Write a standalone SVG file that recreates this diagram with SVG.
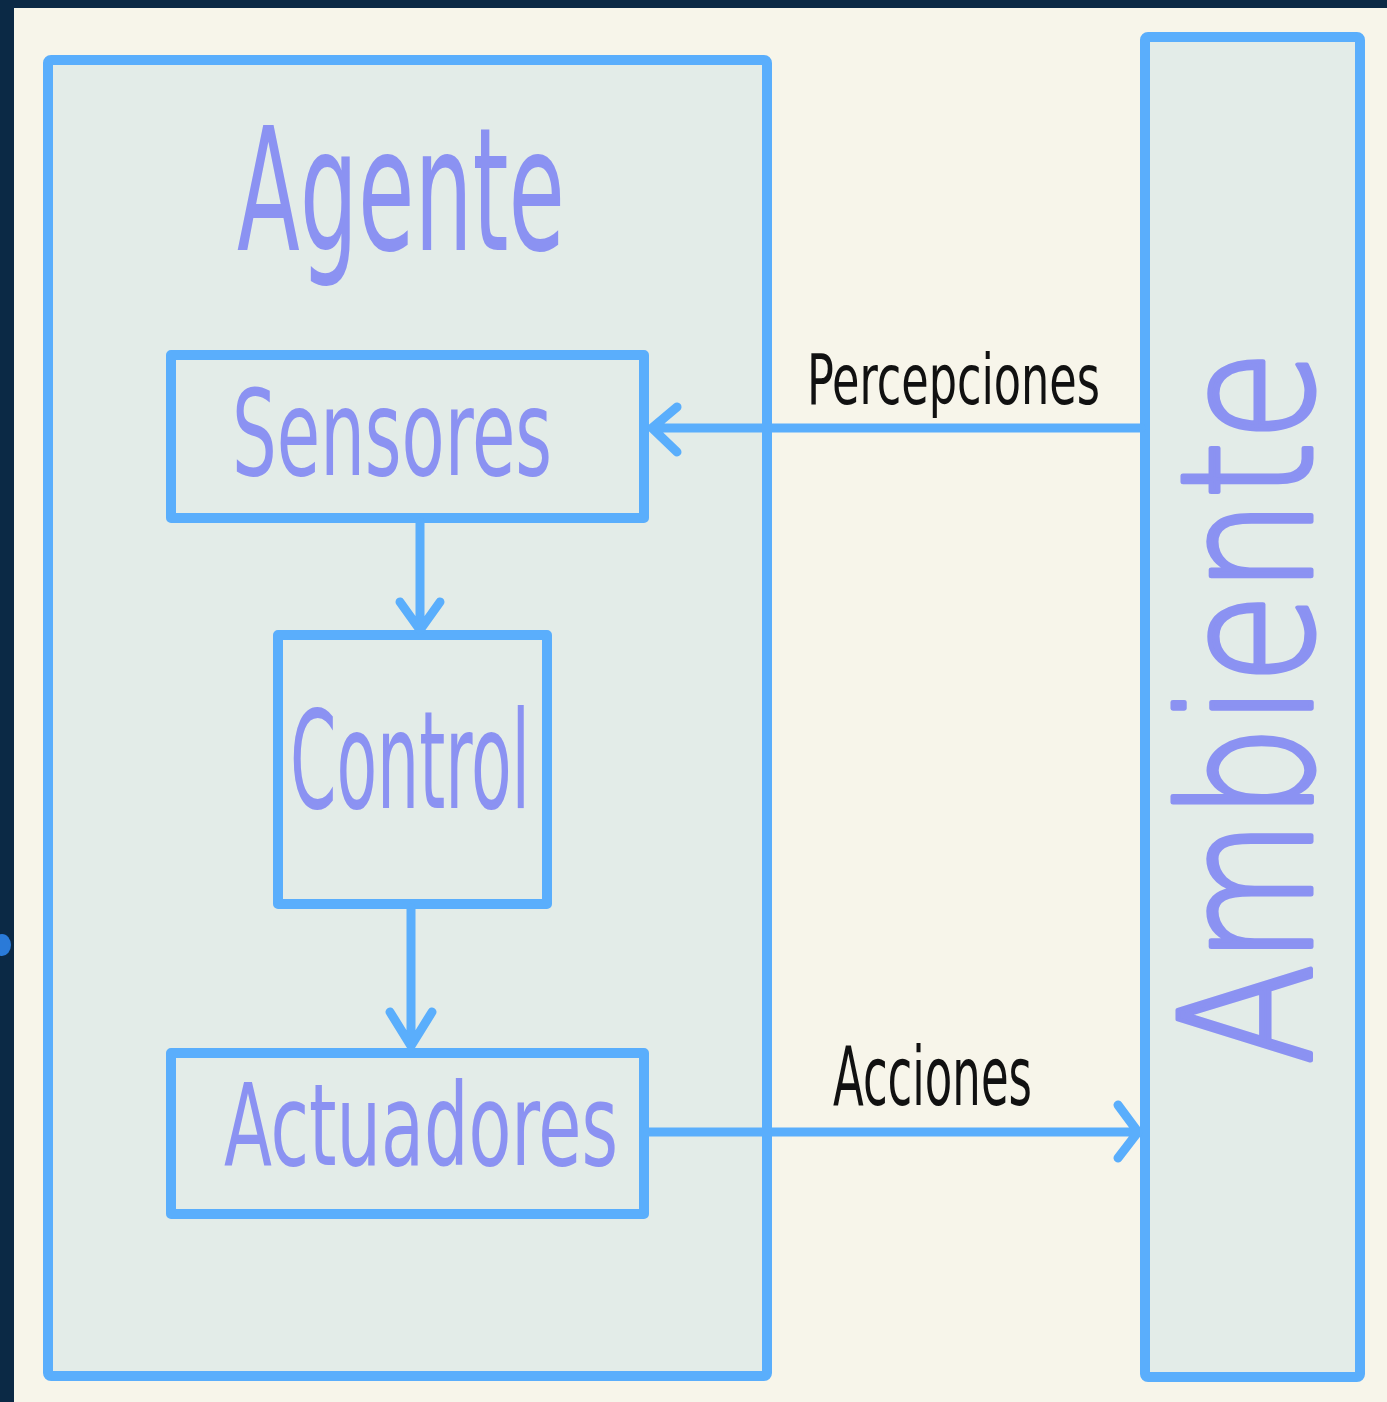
<svg xmlns="http://www.w3.org/2000/svg" width="1387" height="1402" viewBox="0 0 1387 1402">
  <style>
    .box { fill: #e3ece8; stroke: #5aaefc; stroke-width: 10; stroke-linejoin: round; }
    .wire { fill: none; stroke: #5aaefc; stroke-width: 9; stroke-linecap: round; stroke-linejoin: round; }
    .lbl { font-family: "DejaVu Sans Condensed", "DejaVu Sans", sans-serif; font-stretch: condensed; fill: #8b92f2; }
    .thin { font-family: "DejaVu Sans", sans-serif; font-weight: 200; fill: #8b92f2; stroke: #8b92f2; stroke-width: 5; stroke-linejoin: round; }
    .edge { font-family: "DejaVu Sans Condensed", "DejaVu Sans", sans-serif; font-stretch: condensed; fill: #111111; }
  </style>

  <!-- page -->
  <rect x="0" y="0" width="1387" height="1402" fill="#0b2945"/>
  <rect x="14" y="8" width="1373" height="1394" fill="#f7f5ea"/>
  <ellipse cx="2" cy="945" rx="9" ry="11" fill="#2a7ad8"/>

  <!-- agent container -->
  <g id="agente">
    <rect class="box" x="48" y="60" width="719" height="1316" rx="3"/>
    <text class="lbl" x="237" y="250" font-size="172" textLength="328" lengthAdjust="spacingAndGlyphs">Agente</text>
  </g>

  <!-- environment -->
  <g id="ambiente">
    <rect class="box" x="1145" y="37" width="215" height="1340" rx="3"/>
    <text class="thin" transform="translate(1311,1065) rotate(-90)" x="0" y="0" font-size="182" textLength="715" lengthAdjust="spacingAndGlyphs">Ambiente</text>
  </g>

  <g id="sensores">
    <rect class="box" x="171" y="355" width="473" height="163"/>
    <text class="lbl" x="232" y="475" font-size="120" textLength="320" lengthAdjust="spacingAndGlyphs">Sensores</text>
  </g>

  <g id="control">
    <rect class="box" x="278" y="635" width="269" height="269"/>
    <text class="lbl" x="290" y="808" font-size="136" textLength="240" lengthAdjust="spacingAndGlyphs">Control</text>
  </g>

  <g id="actuadores">
    <rect class="box" x="171" y="1053" width="473" height="161"/>
    <text class="lbl" x="224" y="1165" font-size="114" textLength="394" lengthAdjust="spacingAndGlyphs">Actuadores</text>
  </g>

  <!-- connectors -->
  <g id="connectors">
    <path class="wire" d="M420 522 V630 M400 602 L420 630 L440 602"/>
    <path class="wire" d="M411 908 V1046 M390 1012 L411 1046 L432 1012"/>
    <path class="wire" d="M1141 428 H652 M677 407 L652 428 L677 452"/>
    <path class="wire" d="M648 1132 H1138 M1118 1105 L1138 1132 L1118 1158"/>
    <text class="edge" x="807" y="404" font-size="70" textLength="293" lengthAdjust="spacingAndGlyphs">Percepciones</text>
    <text class="edge" x="833" y="1105" font-size="82" textLength="199" lengthAdjust="spacingAndGlyphs">Acciones</text>
  </g>
</svg>
